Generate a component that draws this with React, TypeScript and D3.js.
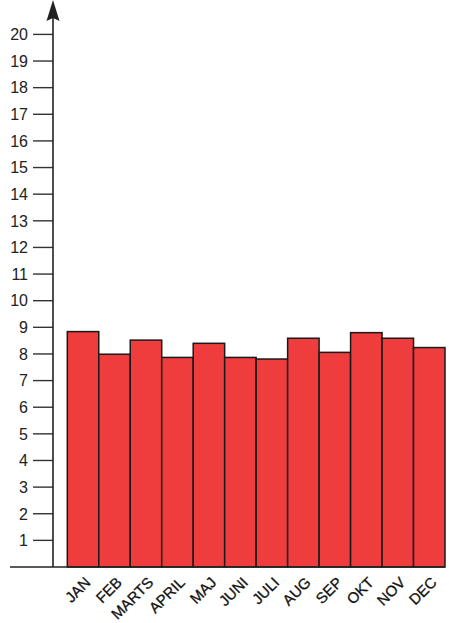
import React from "react";
import * as d3 from "d3";

const months = ["JAN", "FEB", "MARTS", "APRIL", "MAJ", "JUNI", "JULI", "AUG", "SEP", "OKT", "NOV", "DEC"];
const values = [8.84, 7.99, 8.52, 7.87, 8.4, 7.87, 7.81, 8.59, 8.06, 8.8, 8.59, 8.24];
const yTicks = [1, 2, 3, 4, 5, 6, 7, 8, 9, 10, 11, 12, 13, 14, 15, 16, 17, 18, 19, 20];

export default function App() {
  const W = 449, H = 623;
  const axisX = 53;
  const baseY = 567;
  const y = d3.scaleLinear().domain([0, 20]).range([baseY, 34.4]);
  const x = d3.scaleBand().domain(months).range([67.3, 445]).padding(0);
  const font = "'Liberation Sans', Arial, Helvetica, sans-serif";
  return (
    <svg width={W} height={H} style={{ position: "absolute", left: 0, top: 0, background: "#fff" }} fontFamily={font}>
      {values.map((v, i) => (
        <rect key={months[i]} x={x(months[i])!} y={y(v)} width={x.bandwidth()} height={baseY - y(v)}
          fill="#ef3c3c" stroke="#1a1a1a" strokeWidth={1.5} />
      ))}
      {yTicks.map(t => (
        <g key={t}>
          <line x1={33} x2={axisX} y1={y(t)} y2={y(t)} stroke="#333" strokeWidth={1.4} />
          <text x={28} y={y(t)} dy="0.36em" textAnchor="end" fontSize={16} fill="#222">{t}</text>
        </g>
      ))}
      <line x1={axisX} x2={axisX} y1={14} y2={baseY} stroke="#222" strokeWidth={1.6} />
      <path d={`M${axisX},0 L${axisX + 6.5},21 L${axisX},18 L${axisX - 6.5},21 Z`} fill="#222" />
      <line x1={10} x2={445} y1={baseY} y2={baseY} stroke="#222" strokeWidth={1.6} />
      {months.map(m => {
        const cx = x(m)! + x.bandwidth() / 2 + 1;
        const cy = 576;
        return (
          <text key={m} x={cx} y={cy} textAnchor="end" fontSize={15} fill="#111" stroke="#111" strokeWidth={0.3}
            transform={`rotate(-45 ${cx} ${cy})`} dy="0.7em">{m}</text>
        );
      })}
    </svg>
  );
}
